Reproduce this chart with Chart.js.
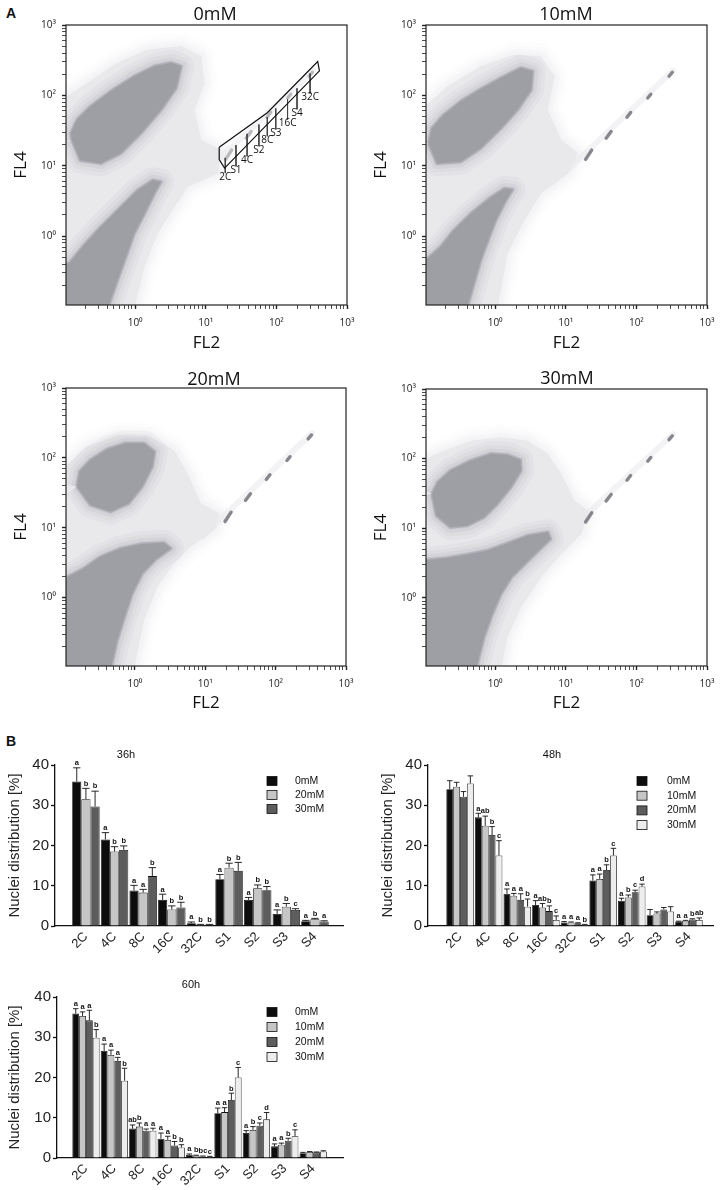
<!DOCTYPE html>
<html>
<head>
<meta charset="utf-8">
<script src="https://cdn.jsdelivr.net/npm/chart.js@4.4.1/dist/chart.umd.min.js"></script>
<style>
  body { margin: 0; background: #fff; width: 720px; height: 1190px; position: relative; overflow: hidden; }
  canvas { position: absolute; }
  .tag { position: absolute; font: bold 14px 'Liberation Sans', Arial, sans-serif; color: #111; }
</style>
</head>
<body>
<div class="tag" style="left:6px;top:5px">A</div>
<div class="tag" style="left:6px;top:733px">B</div>
<canvas id="p0" width="360" height="360" style="left:0;top:0"></canvas>
<canvas id="p1" width="360" height="360" style="left:360px;top:0"></canvas>
<canvas id="p2" width="360" height="360" style="left:0;top:360px"></canvas>
<canvas id="p3" width="360" height="360" style="left:360px;top:360px"></canvas>
<canvas id="b36" width="360" height="225" style="left:0;top:735px"></canvas>
<canvas id="b48" width="360" height="225" style="left:360px;top:735px"></canvas>
<canvas id="b60" width="360" height="225" style="left:0;top:965px"></canvas>
<script>
const sans = "'Liberation Sans', Arial, sans-serif";
const flowFont = "'Open Sans', 'DejaVu Sans', sans-serif";

// ---- panel A: flow cytometry (FL2 vs FL4, log axes) ----
const decadeVals = [1, 10, 100, 1000];
const decadeLabels = ['10⁰', '10¹', '10²', '10³'];
const minorMult = [2, 3, 4, 5, 6, 7, 8, 9];
const minorDecades = [0.1, 1, 10, 100];

// cloud outlines, [FL2, FL4]
const halo0 = [[0.09,86.7],[0.208,150],[0.56,290],[1.5,449],[4.49,501],[8.67,361],[9.68,150],[6.97,62.4],[8.67,23.3],[16.7,16.7],[15,7.77],[5.59,5.01],[3.61,2.59],[2.08,1.08],[1.35,0.361],[0.968,0.09],[0.09,0.09]];
const upper0 = [[0.127,23.3],[0.167,12],[0.324,10.8],[0.624,15],[1.21,29],[2.33,62.4],[3.81,127],[4.49,259],[3.24,290],[1.87,259],[0.97,187],[0.449,114],[0.233,69.7],[0.15,44.9],[0.123,29]];
const lower0 = [[0.09,0.09],[0.403,0.09],[0.56,0.233],[0.736,0.501],[0.968,1.08],[1.35,2.08],[1.87,4.03],[2.33,5.9],[1.77,6.24],[1.08,4.49],[0.624,2.59],[0.324,1.35],[0.187,0.736],[0.12,0.426],[0.09,0.36]];

const halo10 = [[0.09,62.4],[0.208,134],[0.624,259],[1.87,381],[4.49,361],[6.97,187],[5.59,62.4],[8.67,23.3],[15,15],[10.8,7.77],[4.49,4.03],[2.59,1.67],[1.5,0.56],[1.08,0.09],[0.09,0.09]];
const upper10 = [[0.114,20.8],[0.15,10.8],[0.324,11.4],[0.624,17.7],[1.21,34.1],[2.08,62.4],[3.24,120],[3.41,220],[2.33,246],[1.21,177],[0.624,123],[0.324,82.1],[0.187,52.9],[0.127,34.1]];
const lower10 = [[0.09,0.09],[0.394,0.09],[0.501,0.208],[0.624,0.449],[0.794,0.867],[1.02,1.67],[1.35,2.9],[1.77,4.59],[1.35,4.74],[0.821,3.41],[0.449,2.08],[0.26,1.21],[0.167,0.696],[0.09,0.402]];

const halo20 = [[0.09,67.3],[0.208,145],[0.56,214],[1.67,202],[3.61,130],[5.59,60.2],[8.67,22.4],[15.8,16.1],[13.4,9.26],[6.24,5.34],[3.61,3.08],[2.08,1.42],[1.35,0.473],[0.967,0.09],[0.09,0.09]];
const upper20 = [[0.15,38.8],[0.233,21.2],[0.449,17],[0.821,22.4],[1.27,38.8],[1.77,75.1],[1.91,123],[1.35,162],[0.736,162],[0.403,133],[0.233,93.5],[0.164,63.6]];
const lower20 = [[0.09,0.09],[0.449,0.09],[0.56,0.244],[0.711,0.528],[0.916,1.14],[1.27,2.21],[1.97,3.51],[3.24,5.05],[2.6,6.09],[1.21,5.83],[0.624,5.05],[0.324,3.84],[0.187,2.61],[0.09,1.77]];

const halo30 = [[0.09,93.5],[0.187,130],[0.449,181],[1.21,202],[2.9,181],[5.59,117],[8.67,60.2],[13.4,25],[20.8,17.9],[16.7,8.29],[8.67,4.28],[4.49,1.98],[2.33,0.734],[1.5,0.272],[1.21,0.09],[0.09,0.09]];
const upper30 = [[0.127,31.1],[0.147,15.2],[0.233,10.3],[0.403,10.9],[0.697,14.4],[1.08,22.4],[1.67,38.8],[2.33,67.3],[2.28,95.7],[1.5,113],[0.867,117],[0.449,93.5],[0.233,67.3],[0.153,45.7]];
const lower30 = [[0.09,0.09],[0.529,0.09],[0.697,0.272],[0.916,0.589],[1.21,1.14],[1.71,1.98],[2.65,3.08],[4.03,4.68],[6.11,7.03],[5.59,8.77],[2.9,7.85],[1.5,6.09],[0.777,4.78],[0.403,4.19],[0.208,3.75],[0.09,3.44]];

// faint diagonal tail and the dark nuclei peaks along it
const trail = [[9,7.5],[330,225]];
const streakFrom = [[19.1,12.3],[37.3,24.6],[73.6,49],[145,91.6],[290,187]];
const streakTo = [[23.3,16.7],[43.9,30.6],[83,57.2],[160,104],[323,213]];

// ploidy gate of the 0mM plot
const gate0 = [[15.5,18.3],[15.5,12.2],[18.5,9.27],[407,223],[385,303],[74.4,56.6]];
const gateNames = ['2C','S1','4C','S2','8C','S3','16C','S4','32C'];
const gateX = [18.9,26.8,38.5,56.6,74.4,98,144,196,300];
const gateTop = [12.9,19.6,28.4,38.5,49.1,65.2,87.7,126,204];
const gateBottom = [7.87,9.8,13.6,18.9,26.3,32.7,45.4,63.1,106];

// ---- panel B: nuclei distribution ----
const cats = ['2C','4C','8C','16C','32C','S1','S2','S3','S4'];

const m36_0  = [35.9,21.5,8.8,6.5,0.7,11.6,6.5,3.0,1.2];
const e36_0  = [3.4,1.7,1.3,1.4,0.3,1.2,0.6,1.0,0.2];
const m36_20 = [31.5,18.5,8.3,4.1,0.3,14.5,9.4,4.8,1.7];
const e36_20 = [2.7,1.2,0.8,0.9,0.1,1.1,0.8,0.8,0.2];
const m36_30 = [29.7,18.9,12.4,4.6,0.3,13.7,8.9,4.0,1.1];
const e36_30 = [3.8,1.0,2.1,1.3,0.1,2.1,0.9,0.3,0.2];
const l36_0  = ['a','a','a','a','a','a','a','a','a'];
const l36_20 = ['b','b','a','b','b','b','b','b','b'];
const l36_30 = ['b','b','b','b','b','b','b','c','a'];

const m48_0  = [34.0,27.0,8.0,5.2,0.9,11.3,6.3,2.7,1.1];
const e48_0  = [2.1,1.0,1.2,1.1,0.2,1.4,0.6,1.4,0.1];
const m48_10 = [34.6,24.9,7.5,4.6,0.9,11.7,7.1,3.1,1.3];
const e48_10 = [1.1,2.4,0.6,1.0,0.1,1.2,0.6,0.4,0.1];
const m48_20 = [32.1,22.6,6.5,3.7,0.7,13.9,8.4,4.1,1.6];
const e48_20 = [1.3,2.1,1.5,1.3,0.1,1.3,0.5,0.5,0.2];
const m48_30 = [35.4,17.5,4.8,1.5,0.3,17.5,9.8,3.6,1.5];
const e48_30 = [1.9,3.7,1.9,1.0,0.1,1.8,0.6,1.2,0.5];
const l48_0  = ['','a','a','a','a','a','a','','a'];
const l48_10 = ['','ab','a','ab','a','a','b','','a'];
const l48_20 = ['','b','a','b','a','b','c','','b'];
const l48_30 = ['','c','b','c','b','c','d','','ab'];

const m60_0  = [35.9,26.6,7.3,4.8,0.8,11.1,6.2,2.9,1.2];
const e60_0  = [1.2,1.7,0.9,1.4,0.2,1.3,0.6,0.6,0.2];
const m60_10 = [35.3,25.6,7.8,4.5,0.6,11.4,7.0,3.3,1.5];
const e60_10 = [1.0,1.2,0.9,0.9,0.1,1.1,0.8,0.4,0.1];
const m60_20 = [34.2,24.1,6.8,3.1,0.4,14.4,8.0,4.3,1.4];
const e60_20 = [2.5,0.9,0.4,1.0,0.1,1.7,0.7,0.6,0.1];
const m60_30 = [29.9,19.2,6.8,2.6,0.3,20.0,9.6,5.4,1.6];
const e60_30 = [2.0,3.1,0.6,0.7,0.1,2.5,1.7,1.6,0.2];
const l60_0  = ['a','a','ab','a','a','a','a','a',''];
const l60_10 = ['a','a','b','a','b','a','b','a',''];
const l60_20 = ['a','a','a','b','bc','b','c','b',''];
const l60_30 = ['b','b','a','b','c','c','d','c',''];

const colBlack = '#0d0d0d', colLight = '#c6c6c6', colDark = '#5d5d5d', colWhite = '#ededed';

// ---------- plugins ----------
const framePlugin = {
  id: 'frame',
  afterDraw(chart) {
    const {left, top, right, bottom} = chart.chartArea;
    const ctx = chart.ctx;
    ctx.save();
    ctx.strokeStyle = '#222';
    ctx.lineWidth = 1.2;
    ctx.strokeRect(left, top, right - left, bottom - top);
    ctx.restore();
  }
};

const titlePlugin = {
  id: 'panelTitle',
  afterDraw(chart, args, o) {
    const ctx = chart.ctx;
    ctx.save();
    ctx.font = o.font;
    ctx.fillStyle = '#111';
    ctx.textAlign = 'center';
    ctx.textBaseline = 'middle';
    ctx.fillText(o.text, o.x, o.y);
    ctx.restore();
  }
};

const gateLabelPlugin = {
  id: 'gateLabels',
  afterDatasetsDraw(chart, args, o) {
    if (!o.names) return;
    const ctx = chart.ctx, xs = chart.scales.x, ys = chart.scales.y;
    ctx.save();
    ctx.font = '10px ' + flowFont;
    ctx.fillStyle = '#111';
    ctx.textAlign = 'center';
    ctx.textBaseline = 'top';
    o.names.forEach((n, i) => ctx.fillText(n, xs.getPixelForValue(o.x[i]), ys.getPixelForValue(o.y[i]) - 1));
    ctx.restore();
  }
};

const errorPlugin = {
  id: 'errorBars',
  afterDatasetsDraw(chart) {
    const ctx = chart.ctx, y = chart.scales.y;
    ctx.save();
    ctx.strokeStyle = '#111';
    ctx.lineWidth = 0.9;
    ctx.fillStyle = '#111';
    ctx.font = 'bold 7.5px ' + sans;
    ctx.textAlign = 'center';
    ctx.textBaseline = 'bottom';
    chart.data.datasets.forEach((ds, i) => {
      chart.getDatasetMeta(i).data.forEach((bar, j) => {
        const top = y.getPixelForValue(ds.data[j].y + ds.errors[j]);
        const w = bar.width * 0.8;
        ctx.beginPath();
        ctx.moveTo(bar.x, bar.y);
        ctx.lineTo(bar.x, top);
        ctx.moveTo(bar.x - w / 2, top);
        ctx.lineTo(bar.x + w / 2, top);
        ctx.stroke();
        if (ds.letters[j]) ctx.fillText(ds.letters[j], bar.x, top - 1);
      });
    });
    ctx.restore();
  }
};

const legendPlugin = {
  id: 'boxLegend',
  afterDraw(chart, args, o) {
    const ctx = chart.ctx;
    ctx.save();
    ctx.font = '10.5px ' + sans;
    ctx.textBaseline = 'middle';
    ctx.lineWidth = 0.8;
    ctx.strokeStyle = '#111';
    chart.data.datasets.forEach((ds, i) => {
      const cy = o.y + i * o.step;
      ctx.fillStyle = ds.backgroundColor;
      ctx.fillRect(o.x, cy - 4.5, 10, 9);
      ctx.strokeRect(o.x, cy - 4.5, 10, 9);
      ctx.fillStyle = '#111';
      ctx.fillText(ds.label, o.textX, cy);
    });
    ctx.restore();
  }
};

// ---------- flow panels ----------
const flowTicks = decadeVals.slice();
minorDecades.forEach(d => minorMult.forEach(m => flowTicks.push(d * m)));

function pts(list, close) {
  const d = list.map(p => ({x: p[0], y: p[1]}));
  if (close) d.push(d[0]);
  return d;
}

// a filled outline, optionally with a stroked rim
function area(list, color, order, rim, rimColor) {
  return {data: pts(list, true), fill: 'shape', backgroundColor: color, borderWidth: rim || 0,
    borderColor: rimColor || color, borderJoinStyle: 'round', pointRadius: 0, clip: 0, order: order};
}

// soft edge: stacked translucent strokes around the same outline
function softEdge(list, rgb, order) {
  return [[26, 0.07], [18, 0.09], [11, 0.12], [5, 0.18]].map(w => ({
    data: pts(list, true), fill: false, borderWidth: w[0], borderColor: 'rgba(' + rgb + ',' + w[1] + ')',
    borderJoinStyle: 'round', pointRadius: 0, clip: 0, order: order
  }));
}

function logAxis(pos, title, titlePad, fit) {
  return {
    type: 'logarithmic', position: pos, min: 0.105, max: 1000, bounds: 'data',
    afterBuildTicks: s => { s.ticks = flowTicks.map(v => ({value: v})); },
    afterFit: fit,
    ticks: {
      autoSkip: false, maxRotation: 0, color: '#222', padding: pos === 'left' ? 6 : 8,
      font: {size: 10, family: flowFont},
      callback: v => { const k = decadeVals.indexOf(v); return k < 0 ? '' : decadeLabels[k]; }
    },
    grid: {
      drawOnChartArea: false, drawTicks: true, tickLength: 4, tickColor: '#222', offset: false,
      tickWidth: c => decadeVals.indexOf(c.tick ? c.tick.value : 0) >= 0 ? 1.4 : 0.8
    },
    border: {display: false},
    title: {display: true, text: title, color: '#111', font: {size: 17, family: flowFont}, padding: titlePad}
  };
}

function flowPanel(id, cfg) {
  const streaks = [];
  streakFrom.forEach((p, i) => {
    streaks.push({x: p[0], y: p[1]}, {x: streakTo[i][0], y: streakTo[i][1]}, {x: p[0], y: null});
  });
  const datasets = [].concat(
    softEdge(cfg.halo, '225,225,229', 10),
    [area(cfg.halo, '#e9e9ec', 9)],
    [{data: pts(trail), borderColor: 'rgba(228,228,232,0.45)', borderWidth: 6, borderCapStyle: 'round',
      pointRadius: 0, clip: 0, order: 9}],
    softEdge(cfg.upper, '160,160,167', 8),
    softEdge(cfg.lower, '160,160,167', 8),
    [area(cfg.upper, '#9e9ea5', 7, 3, 'rgba(158,158,165,0.6)'),
     area(cfg.lower, '#9e9ea5', 7, 3, 'rgba(158,158,165,0.6)')],
    [{data: streaks, borderColor: cfg.streakColor, borderWidth: 3.4, borderCapStyle: 'round', pointRadius: 0,
      spanGaps: false, clip: 0, order: 5}]
  );
  if (cfg.gate) {
    const marks = [];
    gateX.forEach((x, i) => { marks.push({x: x, y: gateTop[i]}, {x: x, y: gateBottom[i]}, {x: x, y: null}); });
    datasets.push({data: marks, borderColor: '#444', borderWidth: 1, pointRadius: 0, spanGaps: false, clip: 0, order: 3});
    datasets.push({data: pts(gate0, true), borderColor: '#111', borderWidth: 1.2, pointRadius: 0, clip: 0, order: 2});
  }
  return new Chart(document.getElementById(id), {
    type: 'line',
    data: {datasets: datasets},
    options: {
      responsive: false, animation: false, events: [],
      layout: {padding: {top: cfg.top, right: cfg.right, left: 0, bottom: 0}},
      scales: {
        x: logAxis('bottom', 'FL2', {top: 0, bottom: 6.8}, s => { s.height = cfg.xH; }),
        y: logAxis('left', 'FL4', {top: 11, bottom: 0}, s => { s.width = 66; })
      },
      plugins: {
        legend: {display: false}, tooltip: {enabled: false},
        panelTitle: {text: cfg.title, x: cfg.tx, y: cfg.ty, font: '18px ' + flowFont},
        gateLabels: cfg.gate ? {names: gateNames, x: gateX, y: gateBottom} : {}
      }
    },
    plugins: [framePlugin, titlePlugin, gateLabelPlugin]
  });
}

flowPanel('p0', {title: '0mM', tx: 215, ty: 15, top: 25, right: 13, xH: 55,
  halo: halo0, upper: upper0, lower: lower0, streakColor: 'rgba(170,170,176,0.8)', gate: true});
flowPanel('p1', {title: '10mM', tx: 206, ty: 15, top: 25, right: 13, xH: 55,
  halo: halo10, upper: upper10, lower: lower10, streakColor: 'rgba(115,115,122,0.85)'});
flowPanel('p2', {title: '20mM', tx: 214, ty: 20, top: 28, right: 14, xH: 54,
  halo: halo20, upper: upper20, lower: lower20, streakColor: 'rgba(115,115,122,0.85)'});
flowPanel('p3', {title: '30mM', tx: 207, ty: 19, top: 29, right: 13, xH: 54,
  halo: halo30, upper: upper30, lower: lower30, streakColor: 'rgba(115,115,122,0.85)'});

// ---------- bar panels ----------
function barPanel(id, cfg) {
  return new Chart(document.getElementById(id), {
    type: 'bar',
    data: {
      datasets: cfg.series.map(s => ({
        label: s.label, data: s.values.map((v, j) => ({x: j, y: v})), errors: s.errors, letters: s.letters,
        backgroundColor: s.color, borderColor: '#111', borderWidth: 0.8,
        categoryPercentage: 0.96, barPercentage: 1
      }))
    },
    options: {
      responsive: false, animation: false, events: [],
      layout: {padding: {top: cfg.top, right: cfg.right, left: 0, bottom: 0}},
      scales: {
        x: {
          type: 'linear', min: cfg.xMin, max: cfg.xMax, bounds: 'data', offset: false,
          afterBuildTicks: s => { s.ticks = cats.map((c, i) => ({value: i})); },
          afterFit: s => { s.height = cfg.xH; },
          ticks: {autoSkip: false, minRotation: 45, maxRotation: 45, padding: 3, color: '#222',
            font: {size: 13, family: sans}, callback: v => cats[v]},
          grid: {display: false, drawTicks: false, offset: false},
          border: {display: true, color: '#111', width: 1.3}
        },
        y: {
          min: 0, max: 40, bounds: 'data',
          afterFit: s => { s.width = cfg.yW; },
          ticks: {stepSize: 10, padding: 2, color: '#222', font: {size: 15, family: sans}},
          grid: {drawOnChartArea: false, drawTicks: true, tickLength: 4, tickColor: '#111', tickWidth: 1.3},
          border: {display: true, color: '#111', width: 1.3},
          title: {display: true, text: 'Nuclei distribution [%]', color: '#222',
            font: {size: 15, family: sans}, padding: {top: cfg.yTitlePad, bottom: 0}}
        }
      },
      plugins: {
        legend: {display: false}, tooltip: {enabled: false},
        panelTitle: {text: cfg.title, x: cfg.tx, y: 20, font: '11px ' + sans},
        boxLegend: cfg.legend
      }
    },
    plugins: [titlePlugin, legendPlugin, errorPlugin]
  });
}

barPanel('b36', {title: '36h', tx: 126, top: 30, right: 17, xH: 34, yW: 55, yTitlePad: 6,
  xMin: -1.08, xMax: 8.98, legend: {x: 267, y: 46, step: 14, textX: 295},
  series: [
    {label: '0mM', color: colBlack, values: m36_0, errors: e36_0, letters: l36_0},
    {label: '20mM', color: colLight, values: m36_20, errors: e36_20, letters: l36_20},
    {label: '30mM', color: colDark, values: m36_30, errors: e36_30, letters: l36_30}
  ]});

barPanel('b48', {title: '48h', tx: 192, top: 30, right: 7, xH: 34, yW: 68, yTitlePad: 19,
  xMin: -1.12, xMax: 8.84, legend: {x: 277, y: 46, step: 14.7, textX: 307},
  series: [
    {label: '0mM', color: colBlack, values: m48_0, errors: e48_0, letters: l48_0},
    {label: '10mM', color: colLight, values: m48_10, errors: e48_10, letters: l48_10},
    {label: '20mM', color: colDark, values: m48_20, errors: e48_20, letters: l48_20},
    {label: '30mM', color: colWhite, values: m48_30, errors: e48_30, letters: l48_30}
  ]});

barPanel('b60', {title: '60h', tx: 191, top: 32, right: 17, xH: 32, yW: 57, yTitlePad: 6,
  xMin: -1.02, xMax: 9.05, legend: {x: 267, y: 47, step: 15, textX: 295},
  series: [
    {label: '0mM', color: colBlack, values: m60_0, errors: e60_0, letters: l60_0},
    {label: '10mM', color: colLight, values: m60_10, errors: e60_10, letters: l60_10},
    {label: '20mM', color: colDark, values: m60_20, errors: e60_20, letters: l60_20},
    {label: '30mM', color: colWhite, values: m60_30, errors: e60_30, letters: l60_30}
  ]});
</script>
</body>
</html>
